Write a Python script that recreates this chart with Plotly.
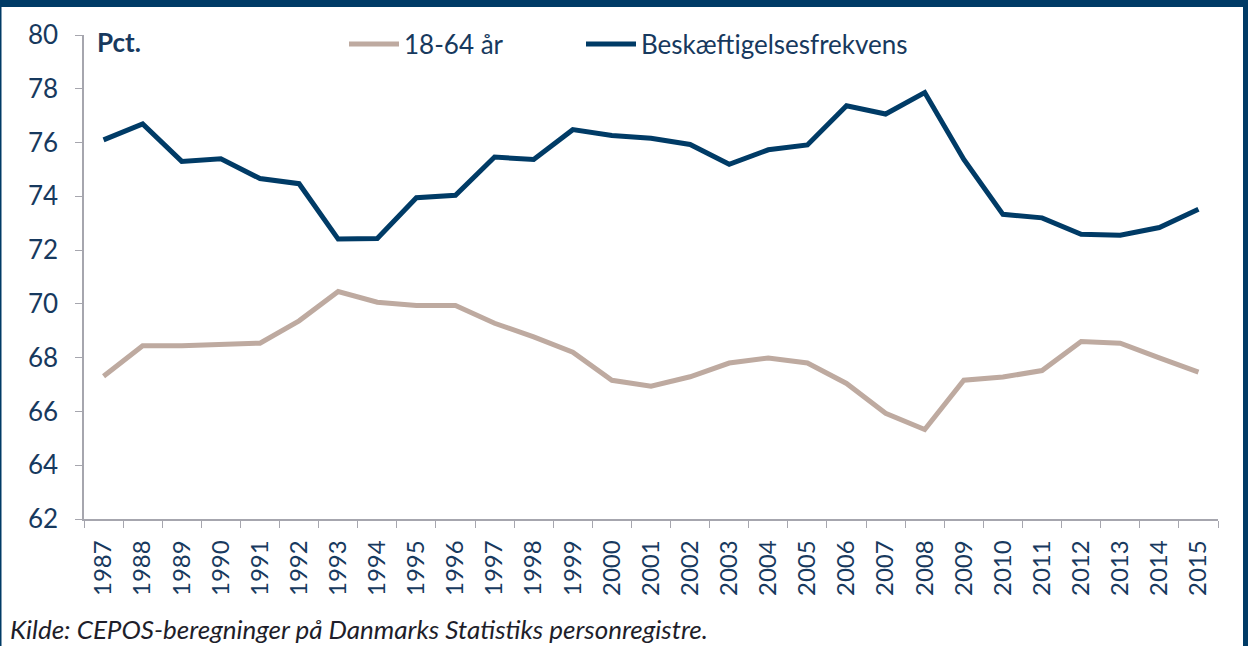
import plotly.graph_objects as go

years = [str(y) for y in range(1987, 2016)]
age_18_64 = [67.31, 68.44, 68.44, 68.48, 68.54, 69.37, 70.46, 70.06, 69.94, 69.94,
             69.28, 68.77, 68.20, 67.16, 66.94, 67.29, 67.80, 67.99, 67.80, 67.04,
             65.93, 65.33, 67.16, 67.28, 67.52, 68.60, 68.54, 67.99, 67.46]
beskaeft = [76.10, 76.69, 75.30, 75.40, 74.66, 74.47, 72.41, 72.43, 73.95, 74.04,
            75.46, 75.37, 76.48, 76.26, 76.16, 75.93, 75.19, 75.73, 75.91, 77.37,
            77.06, 77.86, 75.37, 73.33, 73.20, 72.59, 72.55, 72.84, 73.52]
y_ticks = [62, 64, 66, 68, 70, 72, 74, 76, 78, 80]

NAVY = "#003B66"
BEIGE = "#BEAAA0"
TEXT = "#17395E"
AXIS = "#A6A6AE"

W, H = 1248, 646
L, R, T, B = 84, 30, 35, 127
pw, ph = W - L - R, H - T - B

def px_x(px):
    return (px - L) / pw

def px_y(py):
    return (H - B - py) / ph

fig = go.Figure()
fig.add_trace(go.Scatter(x=years, y=age_18_64, mode="lines", name="18-64 år",
                         line=dict(color=BEIGE, width=5), legend="legend"))
fig.add_trace(go.Scatter(x=years, y=beskaeft, mode="lines", name="Beskæftigelsesfrekvens",
                         line=dict(color=NAVY, width=5), legend="legend2"))

leg_common = dict(orientation="h", xanchor="left", yanchor="middle",
                  font=dict(size=26, color=TEXT, family="Lato"),
                  bgcolor="rgba(0,0,0,0)", itemwidth=50)

fig.update_layout(
    width=W, height=H,
    margin=dict(l=L, r=R, t=T, b=B),
    paper_bgcolor="white", plot_bgcolor="white",
    font=dict(family="Lato", color=TEXT),
    showlegend=True,
    legend=dict(x=px_x(344), y=px_y(44), **leg_common),
    legend2=dict(x=px_x(581), y=px_y(44), **leg_common),
    xaxis=dict(type="category", showgrid=False, showline=True, linecolor=AXIS, linewidth=1.5,
               ticks="outside", tickson="boundaries", ticklen=7, tickcolor=AXIS, tickwidth=1,
               tickangle=-90, tickfont=dict(size=24, color=TEXT, family="Lato"),
               ticklabelstandoff=10,
               range=[-0.5, len(years) - 0.5], zeroline=False),
    yaxis=dict(range=[62, 80], tickvals=y_ticks, showgrid=False, showline=True, linecolor=AXIS,
               linewidth=1.5, ticks="outside", ticklen=7, tickcolor=AXIS,
               ticklabelstandoff=12,
               tickfont=dict(size=26, color=TEXT, family="Lato"), zeroline=False),
    shapes=[
        dict(type="rect", xref="paper", yref="paper", x0=px_x(-5), x1=px_x(W + 5),
             y0=px_y(7), y1=px_y(-5), fillcolor=NAVY, line=dict(width=0), layer="above"),
        dict(type="rect", xref="paper", yref="paper", x0=px_x(-5), x1=px_x(1.5),
             y0=px_y(H + 5), y1=px_y(-5), fillcolor=NAVY, line=dict(width=0), layer="above"),
        dict(type="rect", xref="paper", yref="paper", x0=px_x(1243), x1=px_x(W + 5),
             y0=px_y(H + 5), y1=px_y(-5), fillcolor=NAVY, line=dict(width=0), layer="above"),
    ],
    annotations=[
        dict(text="<b>Pct.</b>", xref="paper", yref="paper", x=px_x(95), y=px_y(42),
             xanchor="left", yanchor="middle", showarrow=False,
             font=dict(size=26, color=TEXT, family="Lato")),
        dict(text="<i>Kilde: CEPOS-beregninger på Danmarks Statistiks personregistre.</i>",
             xref="paper", yref="paper", x=px_x(8), y=px_y(629),
             xanchor="left", yanchor="middle", showarrow=False,
             font=dict(size=26, color="#1E1E2A", family="Lato")),
    ],
)

fig.write_html("out.html", config={"displayModeBar": False},
               post_script="document.body.style.margin='0';document.body.style.overflow='hidden';")
